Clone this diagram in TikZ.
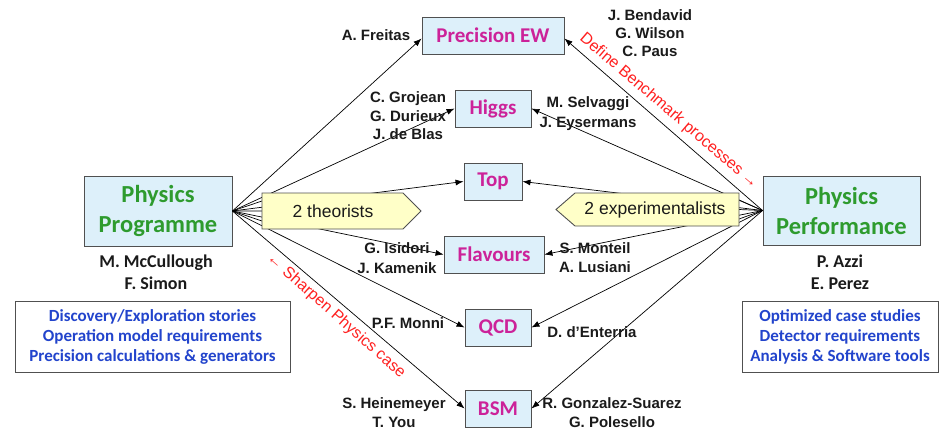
\documentclass[tikz,border=0pt]{standalone}
\usepackage{fontspec}
\setmainfont{Liberation Sans}
\newfontfamily\calfont{Carlito}
\usetikzlibrary{arrows.meta}
\definecolor{boxblue}{HTML}{DDF0FA}
\definecolor{ttlgreen}{HTML}{2E9B2E}
\definecolor{ttlmag}{HTML}{CC2299}
\definecolor{txtblue}{HTML}{2244CC}
\definecolor{signy}{HTML}{FFFFC8}
\definecolor{bord}{HTML}{505050}
\definecolor{ink}{HTML}{1A1A1A}
\definecolor{redtxt}{HTML}{FF2020}
\begin{document}
\begin{tikzpicture}[x=1pt,y=-1pt,
 topic/.style={draw=bord, fill=boxblue, line width=0.9pt, inner sep=0pt, minimum height=37pt, font=\calfont\bfseries\fontsize{21}{24}\selectfont, text=ttlmag},
 mainbox/.style={draw=bord, fill=boxblue, line width=0.9pt, inner sep=0pt, align=center, font=\calfont\bfseries\fontsize{24.5}{30}\selectfont, text=ttlgreen},
 infobox/.style={draw=bord, fill=white, line width=0.9pt, inner sep=0pt, align=center, font=\calfont\bfseries\fontsize{17}{20}\selectfont, text=txtblue},
 who/.style={align=center, font=\bfseries\fontsize{15}{19}\selectfont, inner sep=0pt, text=ink},
 lead/.style={align=center, font=\calfont\bfseries\fontsize{18}{22}\selectfont, inner sep=0pt, text=ink},
 link/.style={line width=0.7pt, -{Latex[length=8pt,width=6pt]}},
 fan/.style={line width=0.7pt},
 sign/.style={draw=bord, fill=signy, line width=0.9pt},
 signtext/.style={font=\fontsize{17.5}{20}\selectfont, inner sep=0pt, text=ink},
 note/.style={text=redtxt, font=\fontsize{16}{18}\selectfont, inner sep=0pt},
]
\useasboundingbox (0,0) rectangle (940,429);

% main boxes
\node[mainbox, minimum width=148pt, minimum height=70pt] (PP) at (158,211) {Physics\\Programme};
\node[mainbox, minimum width=157pt, minimum height=69pt] (PF) at (841.5,210.5) {Physics\\Performance};

% topic boxes
\node[topic, minimum width=142pt] (PEW) at (493,35.5) {Precision EW};
\node[topic, minimum width=76pt] (HIG) at (493,108.5) {Higgs};
\node[topic, minimum width=58pt] (TOP) at (493,181.5) {Top};
\node[topic, minimum width=100pt] (FLA) at (494,254.5) {Flavours};
\node[topic, minimum width=66pt] (QCD) at (498,327.5) {QCD};
\node[topic, minimum width=66pt] (BSM) at (498,408.5) {BSM};

% fan points
\coordinate (lf) at (PP.east);
\coordinate (rf) at (PF.west);
\coordinate (t1) at (262,201);
\coordinate (t2) at (262,211);
\coordinate (t3) at (262,221);
\coordinate (e1) at (739,200);
\coordinate (e2) at (739,209.5);
\coordinate (e3) at (739,219);

% connectors
\draw[link] (lf) -- ([yshift=-3pt]PEW.west);
\draw[link] (lf) -- (HIG.west);
\draw[link] (lf) -- (TOP.west);
\draw[link] (lf) -- (FLA.west);
\draw[link] (lf) -- (QCD.west);
\draw[link] (lf) -- (BSM.west);
\draw[link] (rf) -- ([yshift=-3pt]PEW.east);
\draw[link] (rf) -- (HIG.east);
\draw[link] (rf) -- (TOP.east);
\draw[link] (rf) -- (FLA.east);
\draw[link] (rf) -- (QCD.east);
\draw[link] (rf) -- (BSM.east);
\draw[fan] (lf) -- (t1) (lf) -- (t2) (lf) -- (t3);
\draw[fan] (rf) -- (e1) (rf) -- (e2) (rf) -- (e3);

% signs
\draw[sign] (262,193) -- (403,193) -- (421,211) -- (403,229) -- (262,229) -- cycle;
\node[signtext] (theo) at (333,211) {2 theorists};
\draw[sign] (556,209.5) -- (575,193) -- (739,193) -- (739,226) -- (575,226) -- cycle;
\node[signtext] (expt) at (655,209.5) {2 experimentalists};

% info boxes
\node[infobox, minimum width=275pt, minimum height=71pt] (linfo) at (152.5,336.5) {Discovery/Exploration stories\\Operation model requirements\\Precision calculations \& generators};
\node[infobox, minimum width=196pt, minimum height=71pt] (rinfo) at (840,336.5) {Optimized case studies\\Detector requirements\\Analysis \& Software tools};

% conveners
\node[lead] (lnames) at (156,272) {M. McCullough\\F. Simon};
\node[lead] (rnames) at (840,272) {P. Azzi\\E. Perez};

% people
\node[who] (n1) at (376,35) {A. Freitas};
\node[who, font=\bfseries\fontsize{15}{18.5}\selectfont] (n2) at (408,116) {C. Grojean\\G. Durieux\\J. de Blas};
\node[who, font=\bfseries\fontsize{15}{20}\selectfont] (n3) at (588,114) {M. Selvaggi\\J. Eysermans};
\node[who, font=\bfseries\fontsize{15}{18}\selectfont] (n4) at (650,33) {J. Bendavid\\G. Wilson\\C. Paus};
\node[who, font=\bfseries\fontsize{15}{20}\selectfont] (n5) at (397,258) {G. Isidori\\J. Kamenik};
\node[who, font=\bfseries\fontsize{15}{19.5}\selectfont] (n6) at (595,257.5) {S. Monteil\\A. Lusiani};
\node[who] (n7) at (408,323) {P.F. Monni};
\node[who] (n8) at (592,332) {D. d'Enterria};
\node[who] (n9) at (394,412.5) {S. Heinemeyer\\T. You};
\node[who] (n10) at (612,412.5) {R. Gonzalez-Suarez\\G. Polesello};

% red notes
\node[note, rotate=-40.6] (defn) at (669,111) {Define Benchmark processes →};
\node[note, rotate=-41.5] (sharp) at (336,316) {← Sharpen Physics case};
\end{tikzpicture}
\end{document}
